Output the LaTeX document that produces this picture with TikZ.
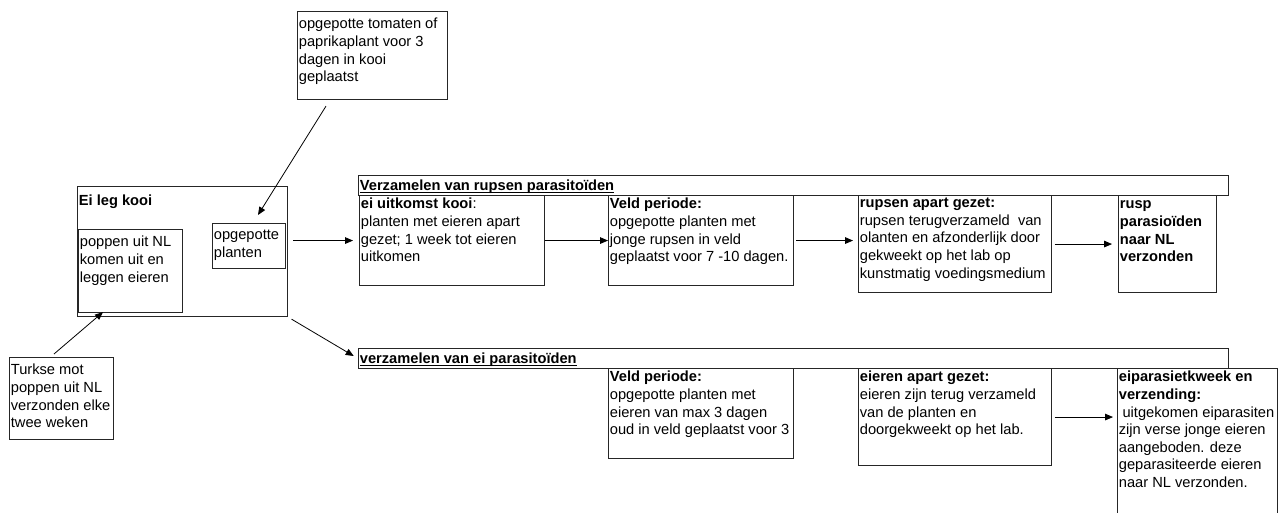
\documentclass[tikz,border=0pt]{standalone}
\usepackage{fontspec}
\setmainfont{Liberation Sans}
\usetikzlibrary{arrows.meta,calc}
\newdimen\pxu \pxu=0.75pt
\newcommand{\boxtext}[3]{\parbox[t][#2\pxu][t]{#1\pxu}{\raggedright #3}}

\begin{document}
\begin{tikzpicture}[
  x=0.75pt, y=-0.75pt,
  font={\fontsize{11}{13.2}\selectfont},
  stage/.style={draw=black!85, line width=0.8pt, anchor=north west, inner xsep=1pt, inner ysep=2pt},
  note/.style={stage, inner ysep=5pt},
  header/.style={stage, inner ysep=3.2pt},
  link/.style={-{Triangle[length=6pt,width=5pt]}, line width=0.6pt}
]
\useasboundingbox (0,0) rectangle (1287,513);
\clip (0,0) rectangle (1287,513);

% Egg laying cage
\node[note] (top) at (297,11) {\boxtext{147.3}{74.7}{opgepotte tomaten of\\paprikaplant voor 3\\dagen in kooi\\geplaatst}};
\node[note, inner ysep=6pt] (kooi) at (77,186) {\boxtext{207.3}{114}{\textbf{Ei leg kooi}}};
\node[note] (poppen) at (78,229) {\boxtext{101.3}{69.7}{poppen uit NL\\komen uit en\\leggen eieren}};
\node[note] (pot) at (212,223) {\boxtext{70.3}{31.7}{opgepotte\\planten}};
\node[note] (turk) at (9,357) {\boxtext{101.3}{68.7}{Turkse mot\\poppen uit NL\\verzonden elke\\twee weken}};

\draw[link] ($(top.south west)+(29,6)$) -- ($(pot.north west)+(46,-8)$);
\draw[link] ($(turk.north west)+(45,-3)$) -- ($(poppen.south west)+(25,-1)$);

% Caterpillar parasitoids
\node[header] (hdr1) at (358,175) {\boxtext{867.3}{11.5}{\vphantom{Vl}\underline{\smash{\textbf{Verzamelen van rupsen parasitoïden}}}}};
\node[stage] (box1) at (359,195) {\boxtext{182.3}{84.7}{\textbf{ei uitkomst kooi}:\\planten met eieren apart\\gezet; 1 week tot eieren\\uitkomen}};
\node[stage] (box2) at (608,195) {\boxtext{182.3}{84.7}{\textbf{Veld periode:}\\opgepotte planten met\\jonge rupsen in veld\\geplaatst voor 7 -10 dagen.}};
\node[stage] (box3) at (858,195) {\boxtext{190.3}{91.7}{\textbf{rupsen apart gezet:}\\rupsen terugverzameld~ van\\olanten en afzonderlijk door\\gekweekt op het lab op\\kunstmatig voedingsmedium}};
\node[stage] (box4) at (1118,195) {\boxtext{95.3}{91.7}{\vphantom{l}\textbf{rusp\\parasioïden\\naar NL\\verzonden}}};

\draw[link, shorten <=3.75pt, shorten >=4.5pt] (kooi.east |- box1.west) -- (box1.west);
\draw[link] (box1) -- (box2);
\draw[link, shorten <=1.5pt, shorten >=3.75pt] (box2.east) -- (box2.east -| box3.west);
\draw[link, shorten <=2pt, shorten >=4.5pt] (box3) -- (box4);

% Egg parasitoids
\node[header] (hdr2) at (358,348) {\boxtext{867.3}{11.5}{\vphantom{Vl}\underline{\smash{\textbf{verzamelen van ei parasitoïden}}}}};
\node[stage] (box5) at (608,368) {\boxtext{182.3}{84.7}{\textbf{Veld periode:}\\opgepotte planten met\\eieren van max 3 dagen\\oud in veld geplaatst voor 3}};
\node[stage] (box6) at (858,368) {\boxtext{190.3}{91.7}{\textbf{eieren apart gezet:}\\eieren zijn terug verzameld\\van de planten en\\doorgekweekt op het lab.}};
\node[stage] (box7) at (1117,368) {\boxtext{157.3}{144.7}{\textbf{eiparasietkweek en\\verzending:}\\\hspace*{0.25em}uitgekomen eiparasiten\\zijn verse jonge eieren\\aangeboden. deze\\geparasiteerde eieren\\naar NL verzonden.}};

\draw[link, shorten <=3pt, shorten >=3.75pt] (kooi.south east) -- (hdr2.west);
\draw[link, shorten <=2pt, shorten >=3pt] (box6.east) -- (box6.east -| box7.west);

\end{tikzpicture}
\end{document}
